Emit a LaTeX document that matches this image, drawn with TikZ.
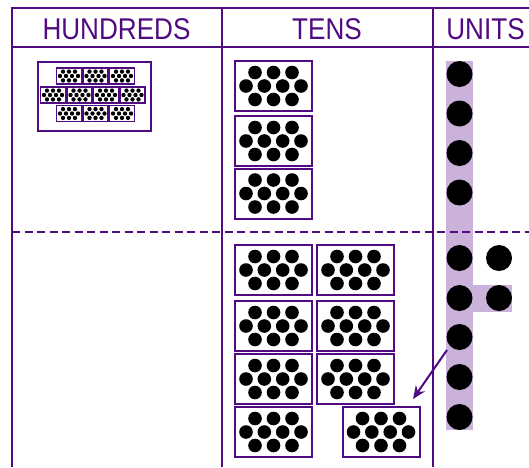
\documentclass[tikz,border=0pt]{standalone}
\usepackage{fontspec}
\setmainfont{Liberation Sans}
\usetikzlibrary{arrows.meta}
\definecolor{plum}{RGB}{80,10,130}
\definecolor{strip}{RGB}{202,178,218}
\tikzset{
  x=1pt, y=-1pt,
  rule/.style={draw=plum, line width=2pt},
  dashrule/.style={draw=plum, line width=1.6pt, dash pattern=on 8pt off 4.5pt},
  head/.style={text=plum, font=\fontsize{30}{30}\selectfont, anchor=base, inner sep=0pt},
  blockframe/.style={draw=plum, line width=2pt, fill=white},
  miniframe/.style={draw=plum, line width=1.4pt, fill=white},
  unitdot/.style={circle, fill=black, minimum size=26pt, inner sep=0pt},
  pics/tensblock/.style={code={
    \draw[blockframe] (-38.5,-25) rectangle (38.5,25);
    \foreach \u in {-18.5,0,18.5}{\fill[black] (\u,-13.5) circle (6.8); \fill[black] (\u,13.5) circle (6.8);}
    \foreach \u in {-27.5,-9.2,9.2,27.5}{\fill[black] (\u,0) circle (6.8);}
  }},
  pics/minitens/.style={code={
    \draw[miniframe] (-12.5,-8) rectangle (12.5,8);
    \foreach \u in {-6,0,6}{\fill[black] (\u,-4.4) circle (2.2); \fill[black] (\u,4.4) circle (2.2);}
    \foreach \u in {-9,-3,3,9}{\fill[black] (\u,0) circle (2.2);}
  }}
}
\begin{document}
\begin{tikzpicture}
\useasboundingbox (0,0) rectangle (529,467);
% units strip
\fill[strip] (446,61) rectangle (473,430);
\fill[strip] (473,285) rectangle (512,312);
% table rules
\draw[rule] (12,8) -- (529,8);
\draw[rule] (12,47) -- (529,47);
\draw[rule] (12,7) -- (12,467);
\draw[rule] (221.5,8) -- (221.5,467);
\draw[rule] (432.5,8) -- (432.5,467);
\draw[dashrule] (12,232) -- (529,232);
% headers
\node[head] (hH) at (116.5,39.5) {\scalebox{0.87}[1]{HUNDREDS}};
\node[head] (hT) at (327,39.5) {\scalebox{0.87}[1]{TENS}};
\node[head] (hU) at (485.5,39.5) {\scalebox{0.87}[1]{UNITS}};
% hundreds
\draw[line width=2pt, draw=plum] (37.5,61.5) rectangle (150.5,131);
\foreach \u in {69,95.5,122}{\pic at (\u,76) {minitens}; \pic at (\u,113.5) {minitens};}
\foreach \u in {53,79.5,106,132.5}{\pic at (\u,95) {minitens};}
% tens top
\foreach \v in {86,141,193.5}{\pic at (273.5,\v) {tensblock};}
% tens bottom
\foreach \v in {270,326,379}{\pic at (273.5,\v) {tensblock}; \pic at (355.5,\v) {tensblock};}
\pic at (273.5,432) {tensblock};
\pic at (381,432) {tensblock};
% units
\foreach \v [count=\i] in {74,113.5,153,192.5}{\node[unitdot] (ut\i) at (459.5,\v) {};}
\foreach \v [count=\i] in {258,298,337,377,417}{\node[unitdot] (ub\i) at (459.5,\v) {};}
\node[unitdot] (ur1) at (499,258) {};
\node[unitdot] (ur2) at (499,298) {};
% arrow
\coordinate (from) at (447,350);
\coordinate (to) at (413,399);
\draw[draw=plum, line width=2pt, -{Stealth[length=13pt,width=11pt]}] (from) -- (to);
\end{tikzpicture}
\end{document}
